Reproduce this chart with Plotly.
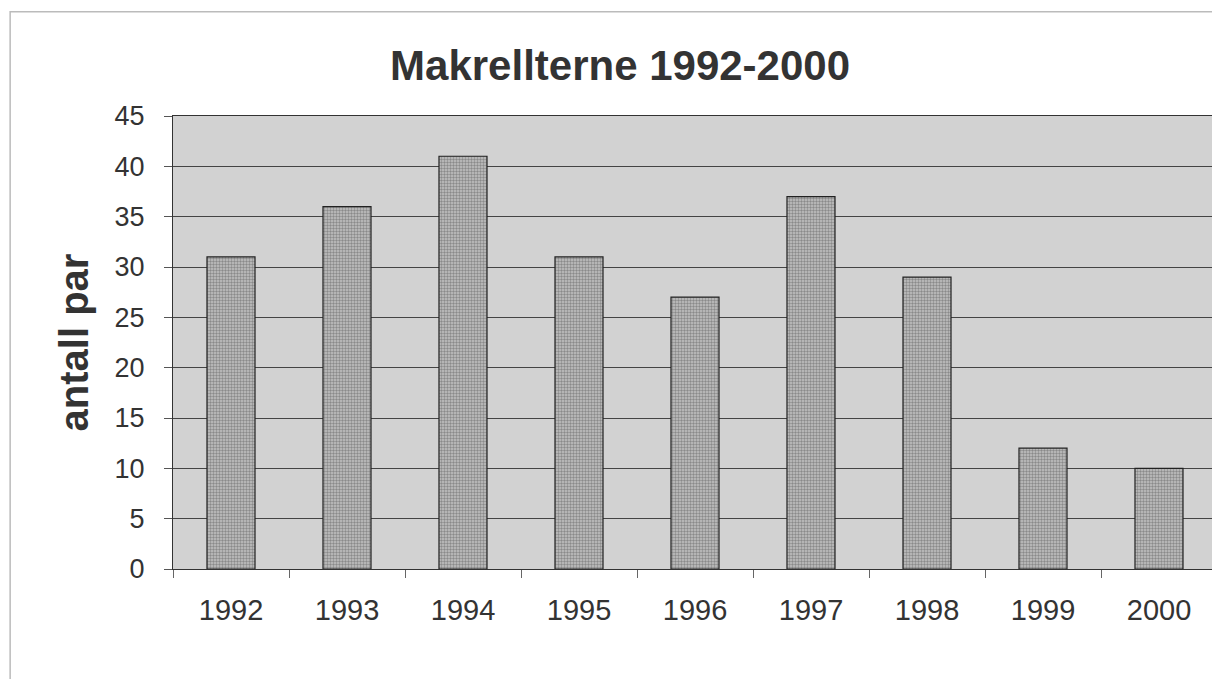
import plotly.graph_objects as go

years = ["1992", "1993", "1994", "1995", "1996", "1997", "1998", "1999", "2000"]
pairs = [31, 36, 41, 31, 27, 37, 29, 12, 10]
y_ticks = [0, 5, 10, 15, 20, 25, 30, 35, 40, 45]

fig = go.Figure()
fig.add_trace(go.Bar(
    x=years, y=pairs,
    marker=dict(
        color="#b0b0b0",
        line=dict(color="#222222", width=1.2),
        pattern=dict(shape=".", fgcolor="#505050", bgcolor="#c4c4c4", size=3, solidity=0.5),
    ),
    showlegend=False,
))

fig.update_layout(
    width=1212, height=671,
    margin=dict(l=165, r=3, t=108, b=110),
    paper_bgcolor="white",
    plot_bgcolor="#d2d2d2",
    bargap=0.586,
    font=dict(family="Liberation Sans, Arial, sans-serif", color="#333333"),
    title=dict(text="<b>Makrellterne 1992-2000</b>", x=0.505, xref="container",
               y=0.915, yref="container", yanchor="middle", xanchor="center",
               font=dict(size=42, color="#333333")),
    xaxis=dict(
        type="category", tickson="boundaries", ticks="outside", ticklen=8,
        tickcolor="#666666", tickfont=dict(size=29), showgrid=False,
        showline=True, linecolor="#333333", linewidth=1, mirror=True,
        ticklabelstandoff=15,
    ),
    yaxis=dict(
        range=[0, 45], tickvals=y_ticks, ticks="outside", ticklen=8,
        tickcolor="#555555", tickfont=dict(size=27), showgrid=True,
        gridcolor="#444444", gridwidth=1, showline=True, linecolor="#333333",
        linewidth=1, mirror=True, zeroline=False, ticklabelstandoff=14,
        title=dict(text="<b>antall par</b>", font=dict(size=40, color="#333333"), standoff=13),
    ),
    shapes=[dict(type="rect", xref="paper", yref="paper",
                 x0=-0.156, x1=1.01, y0=-0.3, y1=1.23,
                 line=dict(color="#bbbbbb", width=1.5), layer="below")],
)

fig.write_html("out.html")
